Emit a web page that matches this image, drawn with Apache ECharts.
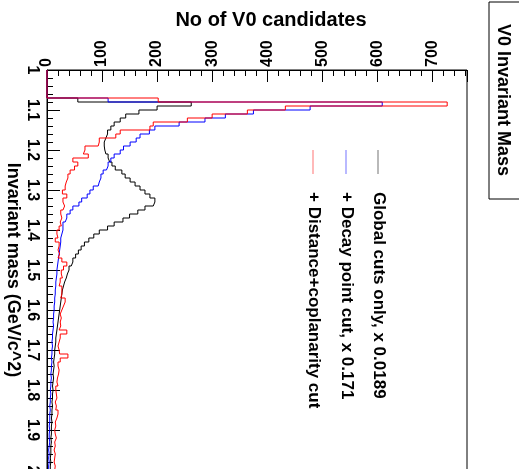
<!DOCTYPE html>
<html>
<head>
<meta charset="utf-8">
<script src="https://cdn.jsdelivr.net/npm/echarts@6/dist/echarts.min.js"></script>
<style>
  html, body { margin: 0; padding: 0; background: #fff; }
  #chart { width: 519px; height: 469px; }
</style>
</head>
<body>
<div id="chart"></div>
<script>
// histogram bins: 100 bins of 0.01 GeV/c^2 from 1.00 to 2.00
const massStart = 1.0
const binWidth = 0.01

// Global cuts only, x 0.0189
const globalCuts = [
  0, 0, 0, 0, 0, 0, 0, 56, 262, 200,
  167, 143, 133, 122, 116, 110, 107, 104, 104, 105,
  107, 111, 114, 118, 124, 136, 142, 151, 160, 169,
  178, 187, 196, 193, 178, 165, 150, 138, 122, 110,
  95, 85, 76, 68, 62, 57, 52, 47, 44, 40,
  37, 35, 32, 30, 28, 27, 26, 25, 24, 23,
  22, 21, 20, 19, 18, 17, 16, 16, 15, 14,
  14, 13, 12, 13, 12, 11, 12, 11, 10, 11,
  10, 10, 9, 10, 9, 9, 8, 9, 8, 8,
  8, 7, 8, 7, 7, 7, 6, 7, 6, 6
]

// + Decay point cut, x 0.171
const decayCut = [
  0, 0, 0, 0, 0, 0, 0, 111, 609, 478,
  375, 324, 287, 240, 196, 186, 169, 162, 151, 139,
  133, 122, 116, 111, 108, 102, 98, 95, 93, 84,
  78, 73, 63, 58, 47, 42, 36, 33, 29, 29,
  27, 25, 25, 24, 23, 22, 21, 20, 19, 18,
  18, 17, 16, 16, 15, 15, 14, 14, 13, 13,
  12, 12, 11, 12, 11, 10, 10, 9, 10, 9,
  9, 8, 9, 8, 8, 7, 8, 7, 7, 6,
  7, 6, 6, 5, 6, 5, 5, 5, 4, 5,
  4, 4, 5, 4, 3, 4, 3, 4, 3, 3
]

// + Distance+coplanarity cut
const coplanarCut = [
  0, 0, 0, 0, 0, 0, 0, 202, 727, 433,
  364, 300, 255, 193, 187, 133, 125, 95, 93, 69,
  66, 75, 47, 56, 50, 42, 38, 35, 33, 33,
  28, 36, 29, 32, 29, 25, 27, 24, 26, 22,
  18, 20, 15, 22, 20, 23, 20, 27, 36, 30,
  26, 28, 24, 22, 27, 27, 25, 33, 30, 27,
  24, 26, 24, 25, 22, 36, 24, 22, 20, 22,
  23, 38, 24, 20, 22, 21, 19, 18, 20, 16,
  17, 18, 15, 17, 16, 20, 18, 15, 16, 14,
  15, 17, 14, 15, 13, 15, 14, 13, 15, 14
]

const seriesNames = ['Global cuts only, x 0.0189', '+ Decay point cut, x 0.171', '+ Distance+coplanarity cut']
const seriesColors = ['#000000', '#0000ff', '#ff0000']
const countMax = 763

const font = "'Liberation Sans', Arial, Helvetica, sans-serif"

// outline of a histogram: each bin is a segment at its count between its two edges
function outline(counts) {
  const pts = []
  counts.forEach((c, i) => {
    const lo = +(massStart + i * binWidth).toFixed(2)
    const hi = +(massStart + (i + 1) * binWidth).toFixed(2)
    pts.push([c, lo], [c, hi])
  })
  return pts
}

const chart = echarts.init(document.getElementById('chart'))

const series = [globalCuts, decayCut, coplanarCut].map((counts, k) => ({
  name: seriesNames[k],
  type: 'line',
  data: outline(counts),
  showSymbol: false,
  symbol: 'none',
  silent: true,
  lineStyle: { color: seriesColors[k], width: 1 },
  z: 2 + k
}))

// legend drawn as rotated entries, like the rest of the picture
const legendX = [378, 346, 313]
const legend = []
seriesNames.forEach((name, k) => {
  legend.push({
    type: 'line',
    shape: { x1: legendX[k], y1: 150, x2: legendX[k], y2: 174 },
    style: { stroke: seriesColors[k], lineWidth: 1, opacity: 0.55 }
  })
  legend.push({
    type: 'text',
    x: legendX[k] + 1,
    y: 192,
    rotation: -Math.PI / 2,
    style: {
      text: name,
      font: 'bold 17px ' + font,
      fill: '#000',
      textAlign: 'left', align: 'left',
      textVerticalAlign: 'middle', verticalAlign: 'middle'
    }
  })
})

chart.setOption({
  animation: false,
  backgroundColor: '#fff',
  grid: {
    left: 47,
    top: 70,
    right: 52,
    bottom: -1,
    containLabel: false,
    outerBoundsMode: 'none',
    show: true,
    borderColor: '#000',
    borderWidth: 1
  },
  xAxis: {
    type: 'value',
    position: 'top',
    min: 0,
    max: countMax,
    interval: 100,
    name: 'No of V0 candidates',
    nameLocation: 'middle',
    nameGap: 40,
    nameMoveOverlap: false,
    nameTextStyle: { fontFamily: font, fontWeight: 'bold', fontSize: 20, color: '#000', padding: [0, 0, 0, 28] },
    axisLine: { lineStyle: { color: '#000', width: 1 } },
    axisTick: { inside: true, length: 12, lineStyle: { color: '#000' } },
    minorTick: { show: true, splitNumber: 5, length: 6, lineStyle: { color: '#000' } },
    splitLine: { show: false },
    axisLabel: {
      rotate: -90,
      margin: 3,
      showMaxLabel: false,
      fontFamily: font,
      fontWeight: 'bold',
      fontSize: 16,
      color: '#000'
    }
  },
  yAxis: {
    type: 'value',
    position: 'left',
    inverse: true,
    min: 1,
    max: 2,
    interval: 0.1,
    name: 'Invariant mass (GeV/c^2)',
    nameLocation: 'middle',
    nameRotate: -90,
    nameGap: 25,
    nameMoveOverlap: false,
    nameTextStyle: { fontFamily: font, fontWeight: 'bold', fontSize: 18, color: '#000' },
    axisLine: { lineStyle: { color: '#000', width: 1 } },
    axisTick: { inside: true, length: 13, lineStyle: { color: '#000' } },
    minorTick: { show: true, splitNumber: 5, length: 6, lineStyle: { color: '#000' } },
    splitLine: { show: false },
    axisLabel: {
      rotate: -90,
      margin: 7,
      fontFamily: font,
      fontWeight: 'bold',
      fontSize: 16,
      color: '#000'
    }
  },
  graphic: [
    {
      type: 'rect',
      shape: { x: 489, y: 2, width: 40, height: 197 },
      style: { fill: '#fff', stroke: '#000', lineWidth: 1 }
    },
    {
      type: 'text',
      x: 503,
      y: 100,
      rotation: -Math.PI / 2,
      style: {
        text: 'V0 Invariant Mass',
        font: 'bold 18px ' + font,
        fill: '#000',
        textAlign: 'center', align: 'center',
        textVerticalAlign: 'middle', verticalAlign: 'middle'
      }
    }
  ].concat(legend),
  series: series
})
</script>
</body>
</html>
